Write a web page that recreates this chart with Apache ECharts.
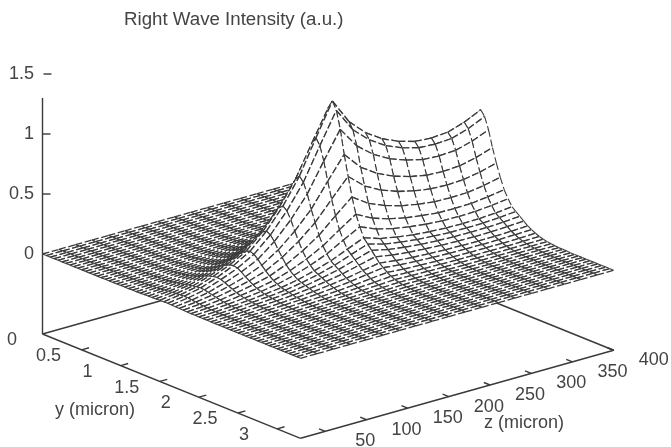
<!DOCTYPE html>
<html><head><meta charset="utf-8">
<style>html,body{margin:0;padding:0;background:#fff}#c{width:671px;height:447px;filter:blur(0.45px)}</style>
<script src="https://cdn.jsdelivr.net/npm/echarts@6/dist/echarts.min.js"></script>
</head><body><div id="c"></div>
<script>
const titleText = 'Right Wave Intensity (a.u.)';
const yLabel = 'y (micron)';
const zLabel = 'z (micron)';
const yTicks = [0.5, 1, 1.5, 2, 2.5, 3, 3.5];
const zTicks = [50, 100, 150, 200, 250, 300, 350, 400];
const vTicks = [0, 0.5, 1, 1.5];
const yRange = [0.5, 3.8];
const zRange = [20, 400];
const vAxisTop = 1.3;
const yStep = 0.05;
const zGrid = [20,40,60,80,100,120,140,160,180,200,220,240,260,280,300,320,340,360,380,400];
// Intensity, one row per z in zGrid; each row covers y = 1.10 .. 3.20 in steps of 0.05.
// Outside that band the surface is flat at zero.
const bandStartY = 1.1;
const intensity = [
[0,0,0,0,0,0,0,.001,.001,.001,.001,.002,.002,.003,.004,.005,.006,.007,.009,.01,.01,.01,.008,.007,.006,.004,.003,.003,.002,.002,.002,.001,.001,.001,.001,0,0,0,0,0,0,0,0],
[0,0,0,0,0,.001,.001,.002,.002,.003,.004,.005,.007,.009,.011,.014,.018,.022,.026,.029,.03,.029,.025,.021,.017,.013,.01,.008,.006,.005,.005,.004,.003,.002,.002,.001,.001,.001,0,0,0,0,0],
[0,0,0,.001,.001,.001,.002,.003,.004,.006,.008,.01,.013,.017,.023,.029,.036,.044,.051,.057,.06,.057,.05,.041,.034,.026,.02,.016,.013,.011,.009,.007,.005,.004,.003,.002,.002,.001,.001,0,0,0,0],
[0,0,.001,.001,.002,.003,.004,.006,.008,.011,.014,.019,.024,.032,.042,.053,.066,.08,.094,.105,.11,.105,.092,.076,.062,.048,.037,.03,.023,.02,.017,.013,.01,.008,.006,.004,.003,.002,.001,.001,.001,0,0],
[0,.001,.001,.002,.003,.004,.006,.009,.012,.017,.022,.029,.037,.049,.065,.082,.102,.124,.145,.162,.17,.162,.143,.117,.095,.075,.058,.046,.036,.031,.026,.02,.015,.012,.009,.006,.004,.003,.002,.001,.001,.001,0],
[.001,.001,.002,.003,.004,.006,.009,.013,.018,.025,.033,.043,.055,.073,.095,.12,.15,.183,.213,.238,.25,.238,.21,.173,.14,.11,.085,.068,.053,.045,.038,.03,.023,.018,.013,.009,.006,.004,.003,.002,.001,.001,.001],
[.001,.002,.002,.004,.006,.009,.013,.019,.027,.038,.049,.065,.084,.11,.144,.182,.228,.277,.323,.361,.38,.361,.319,.262,.213,.167,.129,.103,.08,.068,.057,.046,.034,.027,.019,.013,.01,.006,.005,.003,.002,.001,.001],
[.001,.002,.003,.006,.008,.013,.019,.028,.039,.055,.072,.094,.121,.16,.209,.264,.33,.402,.468,.523,.55,.523,.462,.38,.308,.242,.187,.149,.116,.099,.083,.066,.05,.039,.028,.019,.014,.009,.007,.004,.003,.002,.001],
[.002,.003,.005,.008,.011,.018,.027,.038,.053,.076,.099,.129,.167,.22,.289,.365,.456,.555,.646,.722,.76,.722,.638,.524,.426,.334,.258,.205,.16,.137,.114,.091,.068,.053,.038,.027,.019,.013,.009,.006,.004,.002,.002],
[.002,.004,.006,.01,.016,.025,.036,.052,.073,.104,.135,.177,.229,.302,.395,.499,.624,.759,.884,.988,1.04,.988,.874,.718,.582,.458,.354,.281,.218,.187,.156,.125,.094,.073,.052,.036,.026,.018,.012,.008,.005,.003,.002],
[.003,.005,.008,.013,.02,.031,.046,.066,.092,.131,.17,.223,.288,.38,.498,.629,.786,.956,1.114,1.245,1.31,1.245,1.1,.904,.734,.576,.445,.354,.275,.236,.197,.157,.118,.092,.066,.046,.033,.022,.016,.01,.007,.004,.003],
[.002,.004,.007,.011,.017,.026,.039,.055,.077,.11,.143,.187,.242,.319,.418,.528,.66,.803,.935,1.045,1.1,1.045,.924,.759,.616,.484,.374,.297,.231,.198,.165,.132,.099,.077,.055,.039,.028,.019,.013,.009,.006,.003,.002],
[.002,.004,.006,.01,.015,.023,.034,.049,.068,.097,.126,.165,.213,.281,.369,.466,.582,.708,.825,.922,.97,.922,.815,.669,.543,.427,.33,.262,.204,.175,.146,.116,.087,.068,.049,.034,.024,.016,.012,.008,.005,.003,.002],
[.002,.004,.005,.009,.013,.021,.031,.044,.062,.088,.114,.15,.194,.255,.334,.422,.528,.642,.748,.836,.88,.836,.739,.607,.493,.387,.299,.238,.185,.158,.132,.106,.079,.062,.044,.031,.022,.015,.011,.007,.004,.003,.002],
[.002,.003,.005,.008,.012,.02,.029,.041,.057,.082,.107,.139,.18,.238,.312,.394,.492,.599,.697,.779,.82,.779,.689,.566,.459,.361,.279,.221,.172,.148,.123,.098,.074,.057,.041,.029,.021,.014,.01,.007,.004,.002,.002],
[.002,.003,.005,.008,.012,.019,.027,.039,.055,.078,.101,.133,.172,.226,.296,.374,.468,.569,.663,.741,.78,.741,.655,.538,.437,.343,.265,.211,.164,.14,.117,.094,.07,.055,.039,.027,.02,.013,.009,.006,.004,.002,.002],
[.002,.003,.005,.008,.012,.018,.027,.039,.054,.077,.1,.131,.169,.223,.293,.37,.462,.562,.655,.732,.77,.732,.647,.531,.431,.339,.262,.208,.162,.139,.116,.092,.069,.054,.039,.027,.019,.013,.009,.006,.004,.002,.002],
[.002,.003,.005,.008,.012,.019,.027,.039,.055,.078,.101,.133,.172,.226,.296,.374,.468,.569,.663,.741,.78,.741,.655,.538,.437,.343,.265,.211,.164,.14,.117,.094,.07,.055,.039,.027,.02,.013,.009,.006,.004,.002,.002],
[.002,.003,.005,.008,.012,.02,.029,.041,.058,.083,.107,.14,.182,.239,.314,.396,.495,.602,.701,.784,.825,.784,.693,.569,.462,.363,.281,.223,.173,.149,.124,.099,.074,.058,.041,.029,.021,.014,.01,.007,.004,.002,.002],
[.002,.004,.005,.009,.013,.021,.031,.045,.062,.089,.116,.151,.196,.258,.338,.427,.534,.65,.757,.846,.89,.846,.748,.614,.498,.392,.303,.24,.187,.16,.134,.107,.08,.062,.045,.031,.022,.015,.011,.007,.004,.003,.002]
];

const INK = '#3a3a3a', TEXT = '#444444';
const FONT = '"Liberation Sans", Arial, sans-serif';
const yCount = Math.round((yRange[1] - yRange[0]) / yStep) + 1;
const yAt = i => yRange[0] + i * yStep;
const vAt = (yi, zi) => {
  const k = Math.round((yAt(yi) - bandStartY) / yStep);
  const v = intensity[zi][k];
  return v === undefined ? 0 : v;
};
// Fixed oblique view: data (y, z, v) -> picture plane, which the hidden cartesian axes then place.
const ORIGIN = [42.5, 334], PER_Y = [78.2, 31.6], PER_Z = [0.824, -0.2316], PER_V = -120;
const BASE_TO_ZERO = -80;
const view = (y, z, v, lift) => {
  const dy = y - yRange[0], dz = z - zRange[0];
  return [ORIGIN[0] + dy * PER_Y[0] + dz * PER_Z[0],
          ORIGIN[1] + dy * PER_Y[1] + dz * PER_Z[1] + (lift ? BASE_TO_ZERO + v * PER_V : 0)];
};
const surf = (yi, zi) => view(yAt(yi), zGrid[zi], vAt(yi, zi), true);

const cells = [];
for (let zi = zGrid.length - 2; zi >= 0; zi--)
  for (let yi = 0; yi < yCount - 1; yi++) cells.push([yi, zi]);

const alongZ = {stroke: INK, lineWidth: 1.3, lineDash: [7, 2.6], fill: null};
const alongY = {stroke: INK, lineWidth: 1.1, lineDash: [7, 3], fill: null};
const edge = (api, a, b, style) => ({type: 'polyline', silent: true,
  shape: {points: [api.coord(a), api.coord(b)]}, style});

const surfaceSeries = {
  type: 'custom', coordinateSystem: 'cartesian2d', silent: true, clip: false,
  animation: false, progressive: 0, z: 3, encode: {x: 0, y: 1},
  data: cells,
  renderItem: (p, api) => {
    const yi = api.value(0), zi = api.value(1);
    const a = surf(yi, zi), b = surf(yi, zi + 1), c = surf(yi + 1, zi + 1), d = surf(yi + 1, zi);
    return {type: 'group', children: [
      {type: 'polygon', silent: true, shape: {points: [a, b, c, d].map(q => api.coord(q))},
       style: {fill: '#fff', stroke: null}},
      edge(api, a, b, alongZ), edge(api, d, c, alongZ), edge(api, a, d, alongY), edge(api, b, c, alongY)
    ]};
  }
};

const solid = (name, pts, z) => ({type: 'line', name, data: pts, symbol: 'none', silent: true,
  animation: false, z: z || 2, lineStyle: {color: '#3a3a3a', width: 1.4}});

const frame = [
  solid('y axis', [view(yRange[0], zRange[0]), view(yRange[1], zRange[0])]),
  solid('z axis', [view(yRange[1], zRange[0]), view(yRange[1], zRange[1])]),
  solid('back left', [view(yRange[0], zRange[0]), view(yRange[0], zRange[1])]),
  solid('back right', [view(yRange[1], zRange[1]), view(yRange[0], zRange[1])]),
  solid('v axis', [[ORIGIN[0], ORIGIN[1]], [ORIGIN[0], ORIGIN[1] + BASE_TO_ZERO + vAxisTop * PER_V]])
];
yTicks.slice(1).forEach(t => frame.push(solid('ytick', [view(t, zRange[0]), view(t, zRange[0] + 9)])));
zTicks.forEach(t => frame.push(solid('ztick', [view(yRange[1], t), view(yRange[1] - 0.08, t)])));
const vPix = v => ORIGIN[1] + BASE_TO_ZERO + v * PER_V;
frame.push(solid('vtick', [[ORIGIN[0], vPix(0.5)], [ORIGIN[0] + 8, vPix(0.5)]]));
frame.push(solid('vtick', [[ORIGIN[0], vPix(1)], [ORIGIN[0] + 8, vPix(1)]]));
frame.push(solid('vtick', [[ORIGIN[0] + 1, vPix(1.5)], [ORIGIN[0] + 9, vPix(1.5)]]));

const textItems = [];
yTicks.forEach(t => { if (t < 3.5) { const p = view(t, zRange[0]); textItems.push([p[0] + 6, p[1] + 22, String(t), 'center']); } });
zTicks.forEach(t => { const p = view(yRange[1], t); textItems.push([p[0] + 40, p[1] + 10, String(t), 'center']); });
vTicks.forEach(t => textItems.push([34, vPix(t), String(t), 'right']));
textItems.push([17, 340, '0', 'right']);
textItems.push([95, 410, yLabel, 'center']);
textItems.push([524, 423, zLabel, 'center']);

const textSeries = {
  type: 'custom', coordinateSystem: 'cartesian2d', silent: true, clip: false, animation: false, z: 6,
  encode: {x: 0, y: 1}, data: textItems,
  renderItem: (p, api) => {
    const at = api.coord([api.value(0), api.value(1)]);
    const it = textItems[p.dataIndex];
    return {type: 'text', silent: true, x: at[0], y: at[1],
      style: {text: it[2], fill: TEXT, font: '18px ' + FONT, align: it[3], verticalAlign: 'middle'}};
  }
};

const chart = echarts.init(document.getElementById('c'), null, {renderer: 'canvas'});
chart.setOption({
  animation: false, backgroundColor: '#fff',
  title: {text: titleText, left: 124, top: 10, padding: 0,
    textStyle: {fontFamily: FONT, fontSize: 18.7, fontWeight: 'normal', color: TEXT}},
  grid: {left: 0, right: 0, top: 0, bottom: 0},
  xAxis: {type: 'value', min: 0, max: 671, show: false},
  yAxis: {type: 'value', min: 0, max: 447, inverse: true, show: false},
  tooltip: {show: false},
  series: [...frame, surfaceSeries, textSeries]
});
</script></body></html>
